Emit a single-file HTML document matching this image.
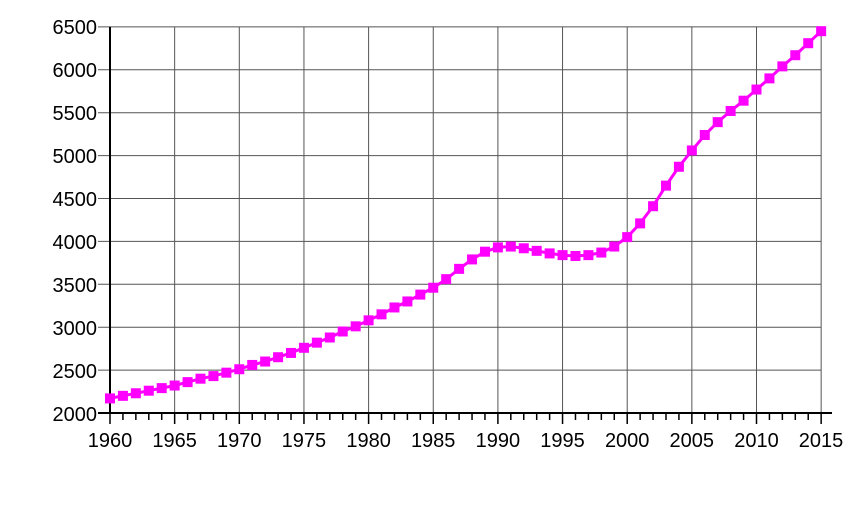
<!DOCTYPE html>
<html><head><meta charset="utf-8"><style>
html,body{margin:0;padding:0;background:#fff;}
svg text{font-family:"Liberation Sans",sans-serif;font-size:20px;fill:#000;}
</style></head><body>
<svg id="s" width="854" height="512" xmlns="http://www.w3.org/2000/svg">
<g id="grid" stroke="#555" stroke-width="1"></g>
<g text-anchor="end">
<text x="97" y="34">6500</text><text x="97" y="77">6000</text><text x="97" y="120">5500</text>
<text x="97" y="163">5000</text><text x="97" y="206">4500</text><text x="97" y="249">4000</text>
<text x="97" y="292">3500</text><text x="97" y="335">3000</text><text x="97" y="378">2500</text>
<text x="97" y="421">2000</text>
</g>
<g text-anchor="middle" style="font-size:21.5px">
<text x="110" y="447">1960</text><text x="174.6" y="447">1965</text><text x="239.3" y="447">1970</text>
<text x="303.9" y="447">1975</text><text x="368.6" y="447">1980</text><text x="433.2" y="447">1985</text>
<text x="497.9" y="447">1990</text><text x="562.5" y="447">1995</text><text x="627.2" y="447">2000</text>
<text x="691.8" y="447">2005</text><text x="756.5" y="447">2010</text><text x="821" y="447">2015</text>
</g>
<g id="axes" stroke="#000" stroke-width="2"></g>
<g id="data"></g>
</svg>
<script>
var NS="http://www.w3.org/2000/svg";
function el(p,n,a){var e=document.createElementNS(NS,n);for(var k in a)e.setAttribute(k,a[k]);p.appendChild(e);return e;}
var X=function(y){return 110+(y-1960)*12.93;},Y=function(v){return 413-(v-2000)*0.0858;};
var g=document.getElementById('grid'),ax=document.getElementById('axes'),d=document.getElementById('data');
for(var v=2500;v<=6500;v+=500)el(g,'line',{x1:98,x2:821,y1:Y(v),y2:Y(v)});
for(var y=1965;y<=2015;y+=5)el(g,'line',{x1:X(y),x2:X(y),y1:Y(6500),y2:413});
el(ax,'line',{x1:110,x2:110,y1:Y(6500),y2:414});
el(ax,'line',{x1:98,x2:832,y1:413,y2:413});
el(ax,'line',{x1:98,x2:110,y1:Y(2000),y2:Y(2000)});
for(var y=1960;y<=2015;y++)el(ax,'line',{x1:X(y),x2:X(y),y1:413,y2:y%5==0?424:420,'stroke-width':1.5});
var vals=[2170,2200,2230,2260,2290,2320,2360,2400,2430,2470,2510,2560,2600,2650,2700,2760,2820,2880,2950,3010,3080,3150,3230,3300,3380,3460,3560,3680,3790,3880,3930,3940,3920,3890,3860,3840,3830,3840,3870,3940,4050,4210,4410,4650,4870,5060,5240,5390,5520,5640,5770,5900,6040,6170,6310,6450];
var pts=vals.map(function(v,i){return X(1960+i).toFixed(1)+","+Y(v).toFixed(1);}).join(" ");
el(d,'polyline',{points:pts,fill:'none',stroke:'#f0f','stroke-width':3});
vals.forEach(function(v,i){el(d,'rect',{x:X(1960+i)-5,y:Y(v)-5,width:10,height:10,fill:'#f0f'});});
</script>
</body></html>
